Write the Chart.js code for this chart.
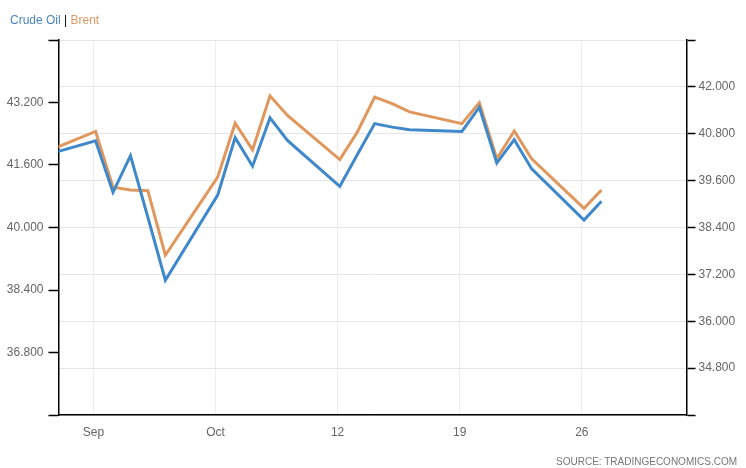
<!DOCTYPE html>
<html>
<head>
<meta charset="utf-8">
<title>Crude Oil | Brent</title>
<script src="https://cdn.jsdelivr.net/npm/chart.js@4.4.0/dist/chart.umd.min.js"></script>
<style>
    body { margin: 0; background: #fff; }
    #wrap { position: relative; width: 746px; height: 468px; font-family: "Liberation Sans", Arial, sans-serif; }
    #legend { position: absolute; left: 10px; top: 13px; font-size: 12px; }
    #legend .crude { color: #4a84bf; }
    #legend .sep { color: #000; }
    #legend .brent { color: #dc9a66; }
    #source { position: absolute; right: 9px; top: 456px; font-size: 10px; color: #777; }
</style>
</head>
<body>
<div id="wrap">
    <canvas id="oilChart" width="746" height="468"></canvas>
    <div id="legend"><span class="crude">Crude Oil</span> <span class="sep">|</span> <span class="brent">Brent</span></div>
    <div id="source">SOURCE: TRADINGECONOMICS.COM</div>
</div>
<script>
// daily closes, stamped a few hours after midnight UTC like the source feed
const closeTime = 'T03:00:00Z';
const dates = ['2020-09-25', '2020-09-28', '2020-09-29', '2020-09-30', '2020-10-01', '2020-10-02',
    '2020-10-05', '2020-10-06', '2020-10-07', '2020-10-08', '2020-10-09',
    '2020-10-12', '2020-10-13', '2020-10-14', '2020-10-15', '2020-10-16',
    '2020-10-19', '2020-10-20', '2020-10-21', '2020-10-22', '2020-10-23',
    '2020-10-26', '2020-10-27'];
const crudeOil = [40.24, 40.62, 39.30, 40.24, 38.66, 37.05,
    39.23, 40.70, 39.97, 41.21, 40.63,
    39.45, 40.26, 41.06, 40.97, 40.90,
    40.86, 41.48, 40.05, 40.65, 39.90,
    38.59, 39.07];
const brent = [41.91, 42.46, 41.03, 40.96, 40.94, 39.29,
    41.29, 42.67, 41.99, 43.37, 42.87,
    41.74, 42.44, 43.34, 43.17, 42.96,
    42.66, 43.19, 41.76, 42.47, 41.76,
    40.49, 40.96];

const xRange = ['2020-09-26', '2020-11-01'];
const tickDates = ['2020-09-28', '2020-10-05', '2020-10-12', '2020-10-19', '2020-10-26'];
const tickLabels = ['Sep', 'Oct', '12', '19', '26'];

const brentRange = [35.2, 44.8];
const brentTicks = [36.8, 38.4, 40.0, 41.6, 43.2];
const crudeRange = [33.6, 43.2];
const crudeTicks = [34.8, 36.0, 37.2, 38.4, 39.6, 40.8, 42.0];

function toDay(s, time) {
    return Date.parse(s + (time || 'T00:00:00Z')) / 86400000;
}

const font = { family: '"Liberation Sans", Arial, sans-serif', size: 12 };
const tickGray = '#666';

const crudeData = dates.map((d, i) => ({ x: toDay(d, closeTime), y: crudeOil[i] }));
const brentData = dates.map((d, i) => ({ x: toDay(d, closeTime), y: brent[i] }));

new Chart(document.getElementById('oilChart'), {
    type: 'line',
    data: {
        datasets: [{
            label: 'Crude Oil',
            data: crudeData,
            yAxisID: 'y1',
            borderColor: '#3f88c9',
            borderWidth: 3,
            pointRadius: 0,
            tension: 0
        }, {
            label: 'Brent',
            data: brentData,
            yAxisID: 'y',
            borderColor: '#e0975d',
            borderWidth: 3,
            pointRadius: 0,
            tension: 0
        }]
    },
    options: {
        responsive: false,
        animation: false,
        devicePixelRatio: 1,
        layout: { padding: { top: 40, left: 0, right: 0, bottom: 0 } },
        plugins: {
            legend: { display: false },
            tooltip: { enabled: false }
        },
        scales: {
            x: {
                type: 'linear',
                min: toDay(xRange[0]),
                max: toDay(xRange[1]),
                afterBuildTicks: function (s) {
                    s.ticks = tickDates.map(d => ({ value: toDay(d) }));
                },
                afterFit: function (s) { s.height = 53; },
                ticks: {
                    autoSkip: false,
                    maxRotation: 0,
                    padding: 10,
                    color: tickGray,
                    font: font,
                    callback: function (v) {
                        const i = tickDates.findIndex(d => toDay(d) === v);
                        return i >= 0 ? tickLabels[i] : '';
                    }
                },
                grid: { color: '#ededed', drawTicks: false },
                border: { color: '#000', width: 1.5 }
            },
            y: {
                position: 'left',
                min: brentRange[0],
                max: brentRange[1],
                afterBuildTicks: function (s) {
                    s.ticks = [brentRange[0], ...brentTicks, brentRange[1]].map(v => ({ value: v }));
                },
                afterFit: function (s) { s.width = 58.5; },
                ticks: {
                    autoSkip: false,
                    padding: 5,
                    color: tickGray,
                    font: font,
                    callback: v => brentTicks.includes(v) ? v.toFixed(3) : ''
                },
                grid: { drawOnChartArea: false, tickLength: 10, tickColor: '#000', tickWidth: 1.5 },
                border: { color: '#000', width: 1.5 }
            },
            y1: {
                position: 'right',
                min: crudeRange[0],
                max: crudeRange[1],
                afterBuildTicks: function (s) {
                    s.ticks = [crudeRange[0], ...crudeTicks, crudeRange[1]].map(v => ({ value: v }));
                },
                afterFit: function (s) { s.width = 59.5; },
                ticks: {
                    autoSkip: false,
                    padding: 3,
                    color: tickGray,
                    font: font,
                    callback: v => crudeTicks.includes(v) ? v.toFixed(3) : ''
                },
                grid: { color: '#e6e6e6', tickLength: 9, tickColor: '#000', tickWidth: 1.5 },
                border: { color: '#000', width: 1.5 }
            }
        }
    }
});
</script>
</body>
</html>
